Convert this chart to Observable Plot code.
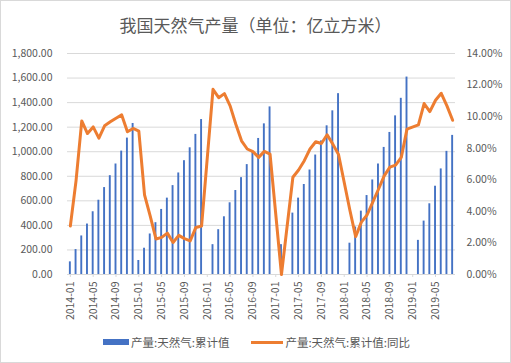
<!DOCTYPE html>
<html>
<head>
<meta charset="utf-8">
<script src="https://cdn.jsdelivr.net/npm/d3@7"></script>
<script src="https://cdn.jsdelivr.net/npm/@observablehq/plot@0.6"></script>
<style>
  html, body { margin: 0; padding: 0; background: #fff; }
  #chart { position: relative; width: 511px; height: 363px; overflow: hidden; background: #fff;
           font-family: "Noto Sans CJK SC", "Noto Sans", sans-serif; color: #595959; }
  #frame { position: absolute; left: 0; top: 0; width: 509px; height: 361px; border: 1px solid #d9d9d9; pointer-events: none; }
  #title { position: absolute; left: 0; top: 12px; width: 511px; text-align: center; font-size: 17px; line-height: 26px; }
  #plot { position: absolute; left: 0; top: 40px; }
  #legend { position: absolute; left: 103px; top: 333px; display: flex; align-items: center; font-size: 11.5px; line-height: 18px; }
  .sw-bar { width: 26px; height: 6px; background: #4472C4; margin-right: 2px; }
  .sw-line { width: 32px; height: 3px; background: #ED7D31; margin-left: 22px; margin-right: 2px; }
</style>
</head>
<body>
<div id="chart">
  <div id="title">我国天然气产量（单位：亿立方米）</div>
  <div id="plot"></div>
  <div id="legend">
    <span class="sw-bar"></span><span>产量:天然气:累计值</span>
    <span class="sw-line"></span><span>产量:天然气:累计值:同比</span>
  </div>
  <div id="frame"></div>
</div>
<script>
// ---- data ----
const years = [2014, 2015, 2016, 2017, 2018, 2019];
const monthLabels = ["01","02","03","04","05","06","07","08","09","10","11","12"];
const categories = years.flatMap(y => monthLabels.map(m => `${y}-${m}`)).slice(0, 68);

// 产量:天然气:累计值 (亿立方米)
const cumulative = [
  103, 203, 314, 411, 511, 605, 708, 805, 900, 1005, 1111, 1230,
  114, 214, 330, 422, 530, 622, 724, 827, 927, 1032, 1141, 1262,
  null, 243, 365, 470, 584, 684, 789, 895, 1003, 1108, 1227, 1365,
  null, 243, null, 500, 622, 733, 851, 973, 1088, 1211, 1333, 1473,
  null, 255, 387, 516, 643, 770, 900, 1035, 1157, 1292, 1435, 1608,
  null, 278, 435, 576, 719, 860, 1003, 1133
];
// 产量:天然气:累计值:同比 (%)
const yoy = [
  3.07, 5.95, 9.73, 8.93, 9.35, 8.64, 9.42, 9.67, 9.90, 10.11, 9.04, 9.25,
  9.08, 5.05, 3.70, 2.25, 2.35, 2.62, 2.03, 2.48, 2.27, 2.13, 2.98, 3.07,
  null, 11.73, 11.20, 11.46, 10.68, 9.52, 8.47, 7.95, 7.78, 7.42, 7.80, 7.63,
  null, 0.00, null, 6.16, 6.62, 7.21, 7.95, 8.41, 8.30, 8.85, 8.26, 7.60,
  null, 4.05, 2.40, 3.32, 3.77, 4.58, 5.40, 6.25, 6.80, 6.93, 7.42, 9.21,
  null, 9.48, 10.83, 10.32, 11.04, 11.48, 10.68, 9.77
];
const leftTicks = [0, 200, 400, 600, 800, 1000, 1200, 1400, 1600, 1800];
const rightTicks = [0, 2, 4, 6, 8, 10, 12, 14];
const xTickLabels = categories.filter((d, i) => i % 4 === 0);

// ---- build ----
const leftMax = 1800, rightMax = 14;
const k = leftMax / rightMax;
const barData = categories.map((c, i) => ({cat: c, v: cumulative[i]})).filter(d => d.v != null);
const lineData = categories.map((c, i) => ({cat: c, p: yoy[i]})).filter(d => d.p != null);

const fmtLeft = d3.format(",.2f");

const chart = Plot.plot({
  width: 511,
  height: 290,
  marginLeft: 67,
  marginRight: 56,
  marginTop: 13,
  marginBottom: 56,
  style: {fontFamily: "'Noto Sans CJK SC', 'Noto Sans', sans-serif", fontSize: "10.5px", color: "#595959", background: "transparent"},
  x: {type: "band", domain: categories, padding: 0, round: false},
  y: {domain: [0, leftMax], nice: false},
  marks: [
    Plot.gridY(leftTicks, {stroke: "#d9d9d9", strokeOpacity: 1, strokeWidth: 1}),
    Plot.barY(barData, {x: "cat", y: "v", fill: "#4472C4", insetLeft: 1.9, insetRight: 1.9}),
    Plot.ruleY([0], {stroke: "#d9d9d9", strokeWidth: 1}),
    Plot.line(lineData, {x: "cat", y: d => d.p * k, stroke: "#ED7D31", strokeWidth: 3, strokeLinejoin: "round", strokeLinecap: "round"}),
    Plot.axisY(leftTicks, {anchor: "left", tickSize: 0, tickPadding: 15, tickFormat: d => fmtLeft(d), label: null}),
    Plot.axisY(rightTicks.map(p => p * k), {anchor: "right", tickSize: 0, tickPadding: 11, tickFormat: d => (d / k).toFixed(2) + "%", label: null}),
    Plot.axisX(xTickLabels, {anchor: "bottom", tickRotate: -90, tickSize: 3, tickPadding: 4, stroke: "#d9d9d9", label: null})
  ]
});
document.getElementById("plot").appendChild(chart);
</script>
</body>
</html>
